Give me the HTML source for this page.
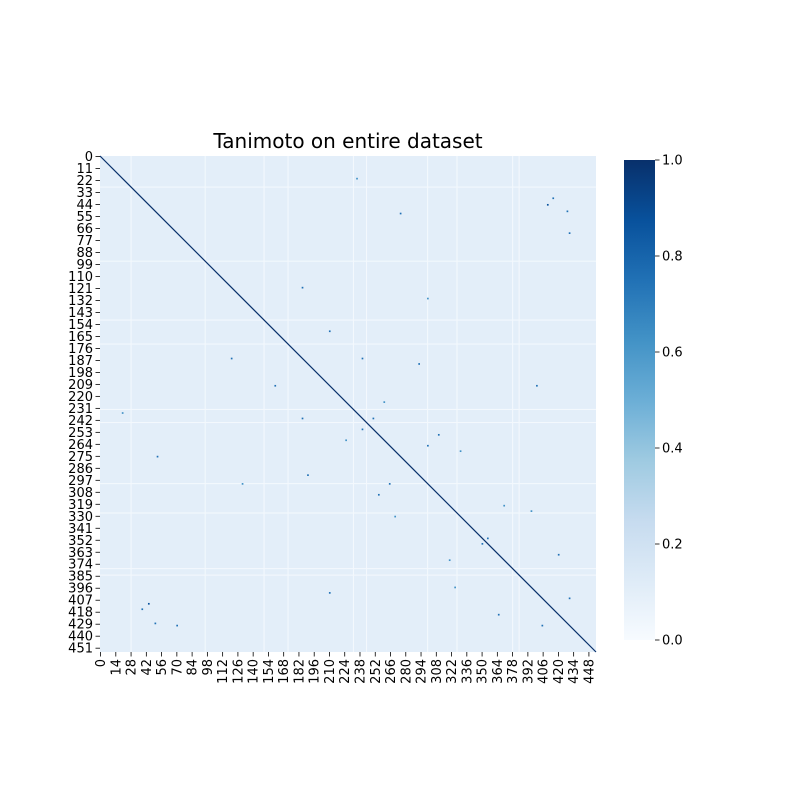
<!DOCTYPE html>
<html><head><meta charset="utf-8"><style>
body{margin:0;background:#fff;}
svg{display:block;font-family:"DejaVu Sans","Liberation Sans",sans-serif;}
</style></head><body>
<svg id="c" width="800" height="800" xmlns="http://www.w3.org/2000/svg">
<defs><linearGradient id="blues" x1="0" y1="1" x2="0" y2="0">
<stop offset="0" stop-color="#f7fbff"/><stop offset="0.125" stop-color="#deebf7"/><stop offset="0.25" stop-color="#c6dbef"/><stop offset="0.375" stop-color="#9ecae1"/><stop offset="0.5" stop-color="#6baed6"/><stop offset="0.625" stop-color="#4292c6"/><stop offset="0.75" stop-color="#2171b5"/><stop offset="0.875" stop-color="#08519c"/><stop offset="1" stop-color="#08306b"/></linearGradient></defs>
<text x="348" y="148" font-size="20" text-anchor="middle">Tanimoto on entire dataset</text>
<rect x="100" y="156" width="496" height="496" fill="#e3eef9"/>
<g id="cells"></g>
<g id="yticks"></g><g id="xticks"></g>
<rect x="624" y="160" width="31" height="480" fill="url(#blues)"/>
<g id="cbticks"></g>
</svg>
<script>
const N = 455;
const lowRows = [28, 96, 150, 172, 232, 244, 300, 327, 378, 384];
const spotRows = [44, 52, 70, 120, 130, 185, 210, 225, 250, 265, 270, 292, 310, 320, 355, 365, 395, 405, 415, 428, 20, 160];
const spotCols = [410, 275, 430, 185, 300, 240, 400, 260, 240, 300, 330, 190, 255, 370, 350, 420, 325, 430, 38, 50, 235, 210];
const spotVals = [0.9, 0.8, 0.7, 0.8, 0.6, 0.7, 0.8, 0.6, 0.7, 0.8, 0.6, 0.7, 0.8, 0.6, 0.7, 0.8, 0.6, 0.7, 0.8, 0.8, 0.6, 0.7];
const yTickLabels = []; for (let v = 0; v <= 451; v += 11) yTickLabels.push(v);
const xTickLabels = []; for (let v = 0; v <= 448; v += 14) xTickLabels.push(v);
const cbTicks = [0.0, 0.2, 0.4, 0.6, 0.8, 1.0];

const NS = "http://www.w3.org/2000/svg";
const X0 = 100, Y0 = 156, S = 496 / N;
const sx = i => X0 + i * S, sy = i => Y0 + i * S;
const cb = v => 640 - v * 480;
const blues = ["#f7fbff","#deebf7","#c6dbef","#9ecae1","#6baed6","#4292c6","#2171b5","#08519c","#08306b"];
const col = v => blues[Math.min(8, Math.round(v * 8))];
function mk(tag, attrs, parent) { const e = document.createElementNS(NS, tag); for (const k in attrs) e.setAttribute(k, attrs[k]); parent.appendChild(e); return e; }
const cells = document.getElementById('cells');
lowRows.forEach(r => {
  const a = mk('rect', {x: X0, y: sy(r), width: 496, height: S, fill: '#f3f8fd'}, cells);
  
  
  const b = mk('rect', {x: sx(r), y: Y0, width: S, height: 496, fill: '#f3f8fd'}, cells);
  
  
});
spotRows.forEach((r, k) => {
  [[r, spotCols[k]], [spotCols[k], r]].forEach(([i, j]) => {
    const e = mk('rect', {x: sx(j), y: sy(i), width: S + 0.6, height: S + 0.6, fill: col(spotVals[k])}, cells);
    
    
  });
});
const diag = mk('line', {x1: sx(0), y1: sy(0), x2: sx(N), y2: sy(N), stroke: '#08306b', 'stroke-width': 1.2}, cells);


const yt = document.getElementById('yticks');
yTickLabels.forEach(v => {
  const y = sy(v + 0.5);
  const t = mk('line', {x1: 95.5, x2: 100, y1: y, y2: y, stroke: '#000', 'stroke-width': 0.8}, yt);
  
  
  const l = mk('text', {x: 93, y: y + 4.5, 'font-size': 13, 'text-anchor': 'end'}, yt);
  l.textContent = v;
  
  
});
const xt = document.getElementById('xticks');
xTickLabels.forEach(v => {
  const x = sx(v + 0.5);
  const t = mk('line', {x1: x, x2: x, y1: 652, y2: 656.5, stroke: '#000', 'stroke-width': 0.8}, xt);
  
  
  const l = mk('text', {x: 0, y: 0, 'font-size': 13, 'text-anchor': 'end', transform: `translate(${x + 4.5},659) rotate(-90)`}, xt);
  l.textContent = v;
  
  
});
const ct = document.getElementById('cbticks');
cbTicks.forEach(v => {
  const y = cb(v);
  const t = mk('line', {x1: 655, x2: 659.5, y1: y, y2: y, stroke: '#000', 'stroke-width': 0.8}, ct);
  
  
  const l = mk('text', {x: 662, y: y + 4.5, 'font-size': 13}, ct);
  l.textContent = v.toFixed(1);
  
  
});
</script>
</body></html>
